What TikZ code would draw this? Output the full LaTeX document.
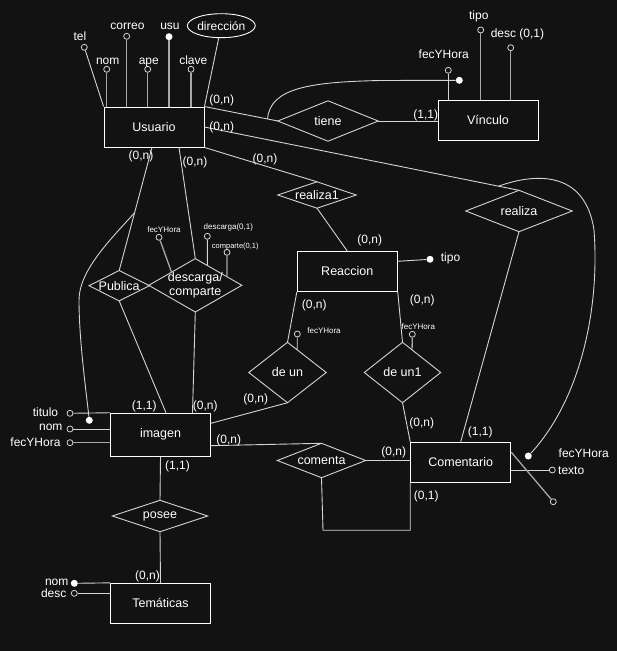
\documentclass[tikz,border=0pt]{standalone}
\usepackage{fontspec}
\setmainfont{Liberation Sans}
\usetikzlibrary{calc,shapes.geometric}
\definecolor{bg}{HTML}{121212}
\definecolor{ln}{HTML}{D4D4D4}
\definecolor{al}{HTML}{A8A8A8}
\newcommand{\fsz}[1]{\fontsize{#1}{#1}\selectfont}
\tikzset{
  ent/.style={draw=white, line width=0.9pt, fill=bg, minimum width=100pt, minimum height=40pt, inner sep=0pt, text=white, font=\fsz{12.5}},
  rel/.style 2 args={minimum width=#1, minimum height=#2, inner sep=0pt, text=white, font=\fsz{12.5}},
  dia/.style={draw=ln, line width=0.9pt},
  oatt/.style={circle, draw=ln, fill=bg, line width=0.8pt, inner sep=0pt, minimum size=6pt},
  katt/.style={circle, fill=white, inner sep=0pt, minimum size=7pt},
  lbl/.style={text=white, font=\fsz{12}, inner sep=0pt},
  sml/.style={text=white, font=\fsz{8}, inner sep=0pt},
  conn/.style={draw=ln, line width=0.9pt},
  aln/.style={draw=al, line width=1.3pt}
}
\begin{document}
\begin{tikzpicture}[x=1pt,y=-1pt]
\fill[bg] (0,0) rectangle (617,651);
\useasboundingbox (0,0) rectangle (617,651);

% entities
\node[ent] (usuario) at (154,127) {Usuario};
\node[ent] (vinculo) at (488,120) {Vínculo};
\node[ent] (reaccion) at (347.3,271.5) {Reaccion};
\node[ent, minimum height=43pt] (imagen) at (160.5,434.7) {imagen};
\node[ent] (comentario) at (460.7,462.3) {Comentario};
\node[ent] (tematicas) at (160.5,603.3) {Temáticas};

% relationships
\node[rel={100pt}{40pt}] (tiene) at (328,121) {tiene};
\node[rel={78pt}{26pt}] (realiza1) at (317,195) {realiza1};
\node[rel={106pt}{41pt}] (realiza) at (519,211) {realiza};
\node[rel={60pt}{30pt}] (publica) at (119.2,285.7) {Publica};
\node[rel={92.7pt}{53pt}, align=center, font=\fontsize{12.5}{14.5}\selectfont] (descarga) at (195.3,285.3) {descarga/\\comparte};
\node[rel={77pt}{60pt}] (deun) at (287.5,372.5) {de un};
\node[rel={76pt}{60pt}] (deun1) at (402.5,372.5) {de un1};
\node[rel={88pt}{34pt}] (comenta) at (321.5,460.5) {comenta};
\node[rel={95pt}{31pt}] (posee) at (160,516) {posee};
\foreach \n in {tiene,realiza1,realiza,publica,descarga,deun,deun1,comenta,posee}
  \draw[dia] (\n.north) -- (\n.east) -- (\n.south) -- (\n.west) -- cycle;

% Usuario attributes
\node[oatt] (utel) at (84.3,47.3) {};
\node[oatt] (unom) at (106.7,69.3) {};
\node[oatt] (ucorreo) at (126.7,36.3) {};
\node[oatt] (uape) at (147.7,69.3) {};
\node[katt] (uusu) at (169,36.7) {};
\node[oatt] (uclave) at (191,69.3) {};
\node[ellipse, draw=white, line width=0.9pt, minimum width=65pt, minimum height=24pt, inner sep=0pt, text=white, font=\fsz{12}] (udir) at (221.3,25.7) {dirección};
\node[lbl] (ltel) at (80,36.5) {tel};
\node[lbl] (lnom) at (107.7,61.2) {nom};
\node[lbl] (lcorreo) at (127.5,26.8) {correo};
\node[lbl] (lape) at (148.8,62.5) {ape};
\node[lbl] (lusu) at (170,26.7) {usu};
\node[lbl] (lclave) at (193.3,60.3) {clave};
\draw[conn] (utel) -- (usuario.north west);
\draw[aln] (unom) -- (unom |- usuario.north);
\draw[aln] (ucorreo) -- (ucorreo |- usuario.north);
\draw[aln] (uape) -- (uape |- usuario.north);
\draw[aln] (uusu) -- (uusu |- usuario.north);
\draw[aln] (uclave) -- (uclave |- usuario.north);
\draw[conn] (udir) -- (usuario.north east);

% Vinculo attributes
\node[oatt] (vfec) at (448.3,70.3) {};
\node[oatt] (vtipo) at (480.7,30) {};
\node[oatt] (vdesc) at (510.7,47.7) {};
\node[katt] (tfec) at (459.3,80.3) {};
\node[lbl] (lvfec) at (443.7,53.8) {fecYHora};
\node[lbl] (lvtipo) at (478.8,16.3) {tipo};
\node[lbl] (lvdesc) at (517.5,34.7) {desc (0,1)};
\draw[conn] (vfec) -- (vfec |- vinculo.north);
\draw[aln] (vtipo) -- (vtipo |- vinculo.north);
\draw[aln] (vdesc) -- (vdesc |- vinculo.north);

% Usuario connections
\draw[conn] (usuario.north east) -- (tiene.west);
\draw[conn] (tiene.east) -- (vinculo.west |- tiene.east);
\coordinate (tc) at ($(usuario.north east)!0.86!(tiene.west)$);
\draw[conn] (tc) .. controls (270,88) and (310,82) .. (380,80.5) -- (tfec);
\draw[conn] (usuario.east) -- (realiza.north);
\coordinate (rc) at ($(usuario.east)!0.935!(realiza.north)$);
\node[katt] (rk) at (528.3,456) {};
\draw[conn] (rc) .. controls (535,173) and (585,170) .. (594,230) .. controls (600,310) and (580,400) .. (rk);
\draw[conn] (usuario.south east) -- (realiza1.north);
\draw[conn] ([xshift=-2pt]usuario.south) -- (publica.north);
\draw[conn] ([xshift=25pt]usuario.south) -- (descarga.north);
\coordinate (pc) at ($([xshift=-2pt]usuario.south)!0.53!(publica.north)$);
\node[katt] (pk) at (89.3,420.3) {};
\draw[conn] (pc) .. controls (112,238) and (79,270) .. (79,300) .. controls (79,340) and (86,390) .. (pk);

% descarga attributes
\node[oatt] (dfec) at (159,237.3) {};
\node[oatt] (ddesc) at (207.3,236.3) {};
\node[oatt] (dcomp) at (227,252.3) {};
\draw[aln] (dfec) -- ($(descarga.west)!0.49!(descarga.north)$);
\draw[conn] (ddesc) -- ($(descarga.north)!0.26!(descarga.east)$);
\draw[aln] (dcomp) -- ($(descarga.north)!0.683!(descarga.east)$);
\node[sml] (ldfec) at (164,229.7) {fecYHora};
\node[sml] (lddesc) at (228.3,227.5) {descarga(0,1)};
\node[sml, font=\fsz{7.5}] (ldcomp) at (235.3,246.3) {comparte(0,1)};

% Reaccion
\draw[conn] (realiza1.south) -- (reaccion.north);
\node[katt] (rtipo) at (430,259.3) {};
\draw[conn] ($(reaccion.north east)!0.25!(reaccion.south east)$) -- (rtipo);
\node[lbl] (lrtipo) at (450.5,258) {tipo};
\draw[conn] (reaccion.south west) -- (deun.north);
\draw[conn] (reaccion.south east) -- (deun1.north);
\node[oatt] (dufec) at (297.3,334) {};
\node[oatt] (du1fec) at (412.3,334.3) {};
\draw[conn] (dufec) -- ($(deun.north)!0.25!(deun.east)$);
\draw[aln] (du1fec) -- ($(deun1.north)!0.25!(deun1.east)$);
\node[sml] (ldufec) at (324,330.3) {fecYHora};
\node[sml] (ldu1fec) at (418.3,327) {fecYHora};

% imagen
\draw[conn] (publica.south) -- ([xshift=5.5pt]imagen.north);
\draw[conn] (descarga.south) -- ([xshift=32pt]imagen.north);
\draw[conn] (deun.south) -- ($(imagen.north east)!0.24!(imagen.south east)$);
\draw[conn] ($(imagen.north east)!0.75!(imagen.south east)$) -- (comenta.north);
\node[oatt] (ititulo) at (70,413.3) {};
\node[oatt] (inom) at (70,429) {};
\node[oatt] (ifec) at (70,442.7) {};
\draw[conn] (ititulo) -- (imagen.north west);
\draw[conn] (inom) -- (imagen.west |- inom);
\draw[aln] (ifec) -- (imagen.west |- ifec);
\node[lbl] (lititulo) at (45.5,412) {titulo};
\node[lbl] (linom) at (50.8,427.2) {nom};
\node[lbl, anchor=east] (lifec) at (60.7,442.5) {fecYHora};
\draw[conn] (imagen.south) -- (posee.north);
\draw[conn] (posee.south) -- (tematicas.north);

% Comentario
\draw[conn] (deun1.south) -- (comentario.north west);
\draw[conn] (realiza.south) -- (comentario.north);
\draw[conn] (comenta.east) -- (comentario.west |- comenta.east);
\draw[conn] (comenta.south) -- ++(1.5,52.5) -| (comentario.south west);
\node[oatt] (ctexto) at (552.3,470) {};
\node[oatt] (cx) at (553.3,501.7) {};
\draw[conn] (comentario.east |- ctexto) -- (ctexto);
\draw[aln] ($(comentario.north east)!0.25!(comentario.south east)$) -- (cx);
\node[lbl] (lctexto) at (571.2,470.5) {texto};
\node[lbl] (lrk) at (583.7,452.8) {fecYHora};

% Tematicas
\node[katt] (tnom) at (74.3,583.3) {};
\node[oatt] (tdesc) at (74.3,593.3) {};
\draw[conn] (tnom) -- (tematicas.north west);
\draw[conn] (tdesc) -- (tematicas.west |- tdesc);
\node[lbl] (ltnom) at (56.7,582.8) {nom};
\node[lbl] (ltdesc) at (53.7,593.3) {desc};

% cardinalities
\node[lbl] (c1) at (221.7,100.5) {(0,n)};
\node[lbl] (c2) at (221.7,127.2) {(0,n)};
\node[lbl] (c3) at (141,156.3) {(0,n)};
\node[lbl] (c4) at (195,162.8) {(0,n)};
\node[lbl] (c5) at (265,159.2) {(0,n)};
\node[lbl] (c6) at (425.7,115.3) {(1,1)};
\node[lbl] (c7) at (369.7,240.5) {(0,n)};
\node[lbl] (c8) at (314.3,305) {(0,n)};
\node[lbl] (c9) at (422.3,300.5) {(0,n)};
\node[lbl] (c10) at (255.7,399.5) {(0,n)};
\node[lbl] (c11) at (421.7,423.8) {(0,n)};
\node[lbl] (c12) at (144.3,406.3) {(1,1)};
\node[lbl] (c13) at (205.3,406.3) {(0,n)};
\node[lbl] (c14) at (228.7,440.3) {(0,n)};
\node[lbl] (c15) at (177.5,466.7) {(1,1)};
\node[lbl] (c16) at (393.7,452) {(0,n)};
\node[lbl] (c17) at (480.3,432.8) {(1,1)};
\node[lbl] (c18) at (426.3,496.3) {(0,1)};
\node[lbl] (c19) at (147.5,576.3) {(0,n)};
\end{tikzpicture}
\end{document}
